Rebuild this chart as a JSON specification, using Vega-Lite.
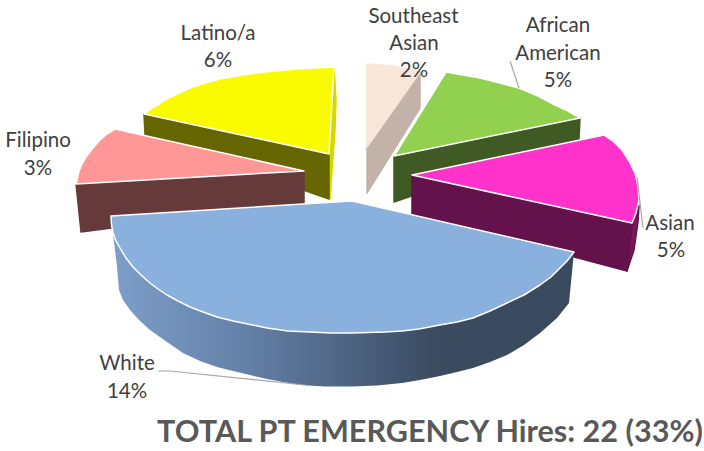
{"$schema":"https://vega.github.io/schema/vega-lite/v6.json","width":704,"height":451,"padding":0,"autosize":{"type":"none"},"background":"white","config":{"view":{"stroke":null}},
"datasets":{
"faces":[
{"part":"Latino/a side","x":334,"y":67,"i":1},{"part":"Latino/a side","x":336,"y":100,"i":2},{"part":"Latino/a side","x":335,"y":130,"i":3},{"part":"Latino/a side","x":330,"y":199,"i":4},{"part":"Latino/a side","x":329,"y":154,"i":5},{"part":"Latino/a side","x":334,"y":67,"i":6},
{"part":"Latino/a wall","x":144,"y":114,"i":1},{"part":"Latino/a wall","x":329,"y":154,"i":2},{"part":"Latino/a wall","x":329,"y":199,"i":3},{"part":"Latino/a wall","x":145,"y":135,"i":4},{"part":"Latino/a wall","x":144,"y":114,"i":5},
{"part":"Latino/a top","x":144,"y":114,"i":1},{"part":"Latino/a top","x":154,"y":107,"i":2},{"part":"Latino/a top","x":165,"y":100,"i":3},{"part":"Latino/a top","x":177,"y":94,"i":4},{"part":"Latino/a top","x":190,"y":88,"i":5},{"part":"Latino/a top","x":205,"y":83,"i":6},{"part":"Latino/a top","x":220,"y":79,"i":7},{"part":"Latino/a top","x":237,"y":76,"i":8},{"part":"Latino/a top","x":255,"y":73,"i":9},{"part":"Latino/a top","x":275,"y":71,"i":10},{"part":"Latino/a top","x":295,"y":69,"i":11},{"part":"Latino/a top","x":334,"y":67,"i":12},{"part":"Latino/a top","x":329,"y":154,"i":13},{"part":"Latino/a top","x":144,"y":114,"i":14},
{"part":"Filipino wall","x":76,"y":184,"i":1},{"part":"Filipino wall","x":304,"y":171,"i":2},{"part":"Filipino wall","x":304,"y":203,"i":3},{"part":"Filipino wall","x":81,"y":232,"i":4},{"part":"Filipino wall","x":76,"y":184,"i":5},
{"part":"Filipino top","x":115,"y":129,"i":1},{"part":"Filipino top","x":107,"y":134,"i":2},{"part":"Filipino top","x":100,"y":140,"i":3},{"part":"Filipino top","x":92,"y":149,"i":4},{"part":"Filipino top","x":86,"y":157,"i":5},{"part":"Filipino top","x":82,"y":164,"i":6},{"part":"Filipino top","x":79,"y":171,"i":7},{"part":"Filipino top","x":76,"y":184,"i":8},{"part":"Filipino top","x":304,"y":171,"i":9},{"part":"Filipino top","x":115,"y":129,"i":10},
{"part":"Southeast Asian wall","x":420,"y":72,"i":1},{"part":"Southeast Asian wall","x":420,"y":108,"i":2},{"part":"Southeast Asian wall","x":367,"y":193,"i":3},{"part":"Southeast Asian wall","x":367,"y":147,"i":4},{"part":"Southeast Asian wall","x":420,"y":72,"i":5},
{"part":"Southeast Asian top","x":367,"y":64,"i":1},{"part":"Southeast Asian top","x":381,"y":65,"i":2},{"part":"Southeast Asian top","x":395,"y":66,"i":3},{"part":"Southeast Asian top","x":420,"y":72,"i":4},{"part":"Southeast Asian top","x":367,"y":147,"i":5},{"part":"Southeast Asian top","x":367,"y":64,"i":6},
{"part":"African American wall","x":394,"y":156,"i":1},{"part":"African American wall","x":580,"y":118,"i":2},{"part":"African American wall","x":579,"y":139,"i":3},{"part":"African American wall","x":394,"y":202,"i":4},{"part":"African American wall","x":394,"y":156,"i":5},
{"part":"African American top","x":446,"y":72,"i":1},{"part":"African American top","x":463,"y":75,"i":2},{"part":"African American top","x":480,"y":78,"i":3},{"part":"African American top","x":500,"y":83,"i":4},{"part":"African American top","x":519,"y":88,"i":5},{"part":"African American top","x":538,"y":96,"i":6},{"part":"African American top","x":555,"y":105,"i":7},{"part":"African American top","x":568,"y":111,"i":8},{"part":"African American top","x":580,"y":118,"i":9},{"part":"African American top","x":394,"y":156,"i":10},{"part":"African American top","x":446,"y":72,"i":11},
{"part":"Asian side","x":639,"y":205,"i":1},{"part":"Asian side","x":638,"y":222,"i":2},{"part":"Asian side","x":634,"y":250,"i":3},{"part":"Asian side","x":627,"y":271,"i":4},{"part":"Asian side","x":632,"y":223,"i":5},{"part":"Asian side","x":639,"y":205,"i":6},
{"part":"Asian wall","x":412,"y":175,"i":1},{"part":"Asian wall","x":632,"y":223,"i":2},{"part":"Asian wall","x":627,"y":271,"i":3},{"part":"Asian wall","x":412,"y":214,"i":4},{"part":"Asian wall","x":412,"y":175,"i":5},
{"part":"Asian top","x":604,"y":135,"i":1},{"part":"Asian top","x":614,"y":142,"i":2},{"part":"Asian top","x":622,"y":150,"i":3},{"part":"Asian top","x":629,"y":161,"i":4},{"part":"Asian top","x":635,"y":173,"i":5},{"part":"Asian top","x":638,"y":186,"i":6},{"part":"Asian top","x":639,"y":200,"i":7},{"part":"Asian top","x":636,"y":213,"i":8},{"part":"Asian top","x":632,"y":223,"i":9},{"part":"Asian top","x":412,"y":175,"i":10},{"part":"Asian top","x":604,"y":135,"i":11}
],
"whiteWall":[
{"x":112,"y":226,"i":1},{"x":133,"y":255,"i":2},{"x":200,"y":300,"i":3},{"x":352,"y":320,"i":4},{"x":500,"y":300,"i":5},{"x":574,"y":252,"i":6},
{"x":569,"y":303,"i":7},{"x":557,"y":318,"i":8},{"x":540,"y":333,"i":9},{"x":524,"y":345,"i":10},{"x":507,"y":355,"i":11},{"x":490,"y":362,"i":12},{"x":473,"y":368,"i":13},{"x":457,"y":372,"i":14},{"x":440,"y":376,"i":15},{"x":420,"y":380,"i":16},{"x":402,"y":383,"i":17},{"x":377,"y":385.5,"i":18},{"x":352,"y":386.5,"i":19},{"x":325,"y":386.5,"i":20},{"x":300,"y":385,"i":21},{"x":283,"y":382,"i":22},{"x":267,"y":379,"i":23},{"x":250,"y":375,"i":24},{"x":233,"y":371,"i":25},{"x":217,"y":367,"i":26},{"x":200,"y":361,"i":27},{"x":183,"y":353,"i":28},{"x":167,"y":342,"i":29},{"x":150,"y":330,"i":30},{"x":139,"y":320,"i":31},{"x":130,"y":310,"i":32},{"x":123,"y":300,"i":33},{"x":119,"y":290,"i":34},{"x":117,"y":267,"i":35},{"x":115,"y":250,"i":36},{"x":112,"y":226,"i":37}
],
"whiteTop":[
{"x":352,"y":201,"i":0},{"x":111,"y":216,"i":1},{"x":111.5,"y":225,"i":2},{"x":113,"y":233,"i":3},{"x":116,"y":241,"i":4},{"x":120,"y":248,"i":5},{"x":126,"y":258,"i":6},{"x":133,"y":267,"i":7},{"x":141,"y":275,"i":8},{"x":150,"y":283,"i":9},{"x":158,"y":289,"i":10},{"x":167,"y":295,"i":11},{"x":178,"y":301,"i":12},{"x":190,"y":307,"i":13},{"x":203,"y":312,"i":14},{"x":217,"y":317,"i":15},{"x":233,"y":321,"i":16},{"x":250,"y":324.5,"i":17},{"x":267,"y":328,"i":18},{"x":288,"y":331,"i":19},{"x":310,"y":332,"i":20},{"x":331,"y":333,"i":21},{"x":352,"y":333,"i":22},{"x":385,"y":332,"i":23},{"x":402,"y":331,"i":24},{"x":419,"y":329,"i":25},{"x":440,"y":325,"i":26},{"x":457,"y":322,"i":27},{"x":473,"y":318,"i":28},{"x":490,"y":311,"i":29},{"x":507,"y":303,"i":30},{"x":524,"y":295,"i":31},{"x":540,"y":285,"i":32},{"x":551,"y":277,"i":33},{"x":560,"y":268,"i":34},{"x":567,"y":261,"i":35},{"x":574,"y":252,"i":36},{"x":352,"y":201,"i":37}
],
"leaders":[
{"slice":"African American","x":510,"y":61,"i":1},{"slice":"African American","x":519,"y":88,"i":2},
{"slice":"Asian","x":637,"y":177,"i":1},{"slice":"Asian","x":643,"y":228,"i":2},
{"slice":"White","x":158,"y":371,"i":1},{"slice":"White","x":170,"y":371,"i":2},{"slice":"White","x":305,"y":385,"i":3}
],
"labels":[
{"t":"Latino/a","x":218,"y":34},{"t":"6%","x":218,"y":61},
{"t":"Filipino","x":38,"y":141},{"t":"3%","x":38,"y":169},
{"t":"Southeast","x":413.5,"y":17},{"t":"Asian","x":414,"y":44},{"t":"2%","x":414,"y":71},
{"t":"African","x":558,"y":26},{"t":"American","x":558,"y":54},{"t":"5%","x":558,"y":81},
{"t":"Asian","x":670,"y":224},{"t":"5%","x":671,"y":251},
{"t":"White","x":127,"y":364},{"t":"14%","x":127,"y":392}
],
"title":[{"t":"TOTAL PT EMERGENCY Hires: 22 (33%)","x":430,"y":433}]
},
"layer":[
{"data":{"name":"faces"},"mark":{"type":"line","strokeWidth":1.5,"strokeJoin":"round"},
"encoding":{
"x":{"field":"x","type":"quantitative","scale":{"domain":[0,704],"nice":false,"zero":false},"axis":null},
"y":{"field":"y","type":"quantitative","scale":{"domain":[451,0],"nice":false,"zero":false},"axis":null},
"order":{"field":"i","type":"ordinal"},
"detail":{"field":"part"},
"fill":{"field":"part","type":"nominal","legend":null,"sort":null,"scale":{"domain":["Latino/a side","Latino/a wall","Latino/a top","Filipino wall","Filipino top","Southeast Asian wall","Southeast Asian top","African American wall","African American top","Asian side","Asian wall","Asian top"],"range":["#d8d800","#666600","#fbfb00","#663a3a","#ff9797","#c2b2a7","#f8e6d8","#3f5a23","#92d050","#7a1560","#63124b","#ff33cc"]}},
"stroke":{"field":"part","type":"nominal","legend":null,"scale":{"domain":["Latino/a side","Latino/a wall","Latino/a top","Filipino wall","Filipino top","Southeast Asian wall","Southeast Asian top","African American wall","African American top","Asian side","Asian wall","Asian top"],"range":["#d8d800","#666600","#ffffff","#663a3a","#ffffff","#c2b2a7","#f8e6d8","#3f5a23","#ffffff","#63124b","#63124b","#ffffff"]}}
}},
{"data":{"name":"whiteWall"},"mark":{"type":"line","strokeWidth":0,"fill":{"gradient":"linear","x1":0,"y1":0,"x2":1,"y2":0,"stops":[{"offset":0,"color":"#7d9ec9"},{"offset":0.25,"color":"#6785ad"},{"offset":0.5,"color":"#4f6584"},{"offset":0.7,"color":"#3a4b60"},{"offset":1,"color":"#3a4a5e"}]}},
"encoding":{"x":{"field":"x","type":"quantitative","axis":null},"y":{"field":"y","type":"quantitative","axis":null},"order":{"field":"i","type":"ordinal"}}},
{"data":{"name":"whiteTop"},"mark":{"type":"line","stroke":"#ffffff","strokeWidth":1.5,"strokeJoin":"round","fill":"#8ab0de"},
"encoding":{"x":{"field":"x","type":"quantitative","axis":null},"y":{"field":"y","type":"quantitative","axis":null},"order":{"field":"i","type":"ordinal"}}},
{"data":{"name":"leaders"},"mark":{"type":"line","stroke":"#a6a6a6","strokeWidth":1.2},
"encoding":{"x":{"field":"x","type":"quantitative","axis":null},"y":{"field":"y","type":"quantitative","axis":null},"detail":{"field":"slice"},"order":{"field":"i","type":"ordinal"}}},
{"data":{"name":"labels"},"mark":{"type":"text","font":"Lato","fontSize":20.5,"color":"#404040","align":"center","baseline":"middle"},
"encoding":{"x":{"field":"x","type":"quantitative","axis":null},"y":{"field":"y","type":"quantitative","axis":null},"text":{"field":"t"}}},
{"data":{"name":"title"},"mark":{"type":"text","font":"Lato","fontSize":30.6,"fontWeight":"bold","color":"#595959","align":"center","baseline":"middle"},
"encoding":{"x":{"field":"x","type":"quantitative","axis":null},"y":{"field":"y","type":"quantitative","axis":null},"text":{"field":"t"}}}
],
"resolve":{"scale":{"x":"shared","y":"shared"}}
}
